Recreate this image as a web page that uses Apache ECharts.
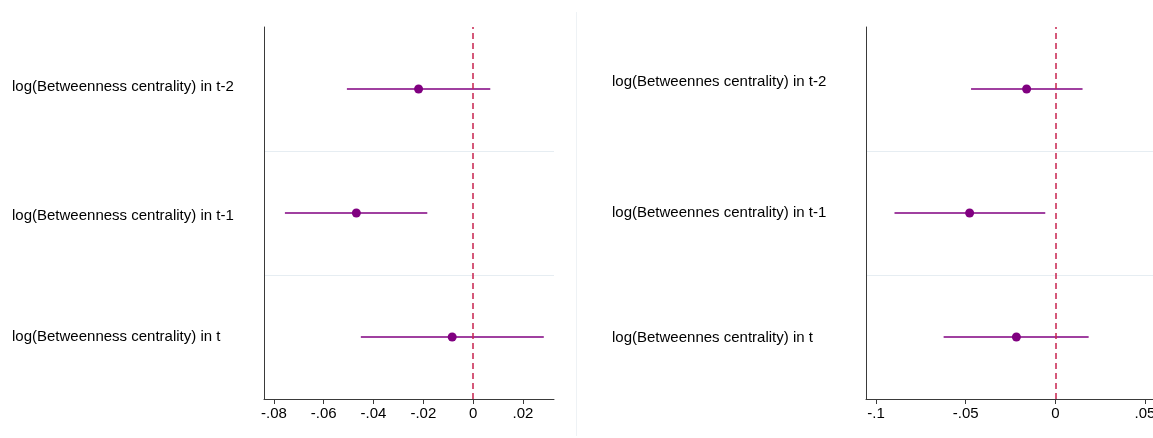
<!DOCTYPE html>
<html>
<head>
<meta charset="utf-8">
<script src="https://cdn.jsdelivr.net/npm/echarts@6/dist/echarts.min.js"></script>
<style>html,body{margin:0;padding:0;background:#fff;overflow:hidden}#c{width:1153px;height:438px}</style>
</head>
<body>
<div id="c"></div>
<script>
// Category labels (bottom to top: position 1, 2, 3)
const leftLabels = ["log(Betweenness centrality) in t", "log(Betweenness centrality) in t-1", "log(Betweenness centrality) in t-2"];
const rightLabels = ["log(Betweennes centrality) in t", "log(Betweennes centrality) in t-1", "log(Betweennes centrality) in t-2"];
const positions = [1, 2, 3];
// Left panel estimates and confidence bounds
const leftEst = [-0.0084, -0.0469, -0.0219];
const leftLo  = [-0.0451, -0.0756, -0.0507];
const leftHi  = [ 0.0284, -0.0184,  0.0069];
// Right panel estimates and confidence bounds
const rightEst = [-0.0217, -0.0478, -0.0160];
const rightLo  = [-0.0623, -0.0897, -0.0470];
const rightHi  = [ 0.0186, -0.0056,  0.0152];
// Tick values
const leftTicks = [-0.08, -0.06, -0.04, -0.02, 0, 0.02];
const rightTicks = [-0.1, -0.05, 0, 0.05];
const separators = [1.5, 2.5];

const purple = '#800080';
const red = '#c8234f';
const axisCol = '#3a3a3a';
const font = 'Liberation Sans, Arial, Helvetica, sans-serif';

function fmt(v) {
  if (Math.abs(v) < 1e-12) return '0';
  let s = String(+v.toFixed(4));
  return s.replace(/^(-?)0\./, '$1.');
}

function xAxisDef(idx, min, max, ticks) {
  return {
    type: 'value', gridIndex: idx, min: min, max: max, z: 10,
    axisLine: {show: true, onZero: false, lineStyle: {color: axisCol, width: 1}},
    axisTick: {show: true, length: 5, customValues: ticks, lineStyle: {color: axisCol}},
    axisLabel: {customValues: ticks, formatter: fmt, color: '#000', fontSize: 15, fontFamily: font, margin: 7},
    splitLine: {show: false}
  };
}
// label style shifts (pixels, negative = up), in position order 1,2,3
function yAxisDef(idx, labels, margin, shifts) {
  const rich = {};
  shifts.forEach((s, i) => {
    rich['p' + i] = {fontSize: 15, fontFamily: font, color: '#000',
      padding: s < 0 ? [0, 0, -2 * s, 0] : [2 * s, 0, 0, 0]};
  });
  return {
    type: 'value', gridIndex: idx, min: 0.5, max: 3.5, z: 10,
    axisLine: {show: true, onZero: false, lineStyle: {color: axisCol, width: 1}},
    axisTick: {show: false},
    axisLabel: {customValues: positions, align: 'left', margin: margin,
      formatter: v => { const i = Math.round(v) - 1; return labels[i] ? '{p' + i + '|' + labels[i] + '}' : ''; },
      rich: rich, color: '#000', fontSize: 15, fontFamily: font},
    splitLine: {show: false}
  };
}
function ciData(lo, hi) { return positions.map((p, i) => [lo[i], hi[i], p]); }
function ptData(est) { return positions.map((p, i) => [est[i], p]); }

function panelSeries(idx, lo, hi, est) {
  return [
    {
      type: 'line', xAxisIndex: idx, yAxisIndex: idx, silent: true, data: [],
      markLine: {
        silent: true, symbol: 'none', label: {show: false}, animation: false,
        lineStyle: {color: '#e6edf2', type: 'solid', width: 1},
        data: separators.map(s => ({yAxis: s}))
      },
      z: 1
    },
    {
      type: 'line', xAxisIndex: idx, yAxisIndex: idx, silent: true, data: [],
      markLine: {
        silent: true, symbol: 'none', label: {show: false}, animation: false,
        lineStyle: {color: red, type: [6, 4], width: 1.5},
        emphasis: {disabled: true},
        data: [{xAxis: 0}]
      },
      z: 2
    },
    {
      type: 'custom', xAxisIndex: idx, yAxisIndex: idx, silent: true,
      data: ciData(lo, hi),
      renderItem: function (params, api) {
        const a = api.coord([api.value(0), api.value(2)]);
        const b = api.coord([api.value(1), api.value(2)]);
        return {type: 'line', shape: {x1: a[0], y1: a[1], x2: b[0], y2: b[1]},
          style: {stroke: purple, lineWidth: 1.5}};
      },
      z: 3
    },
    {
      type: 'scatter', xAxisIndex: idx, yAxisIndex: idx, silent: true,
      data: ptData(est), symbol: 'circle', symbolSize: 9,
      itemStyle: {color: purple, opacity: 1}, z: 4
    }
  ];
}

const chart = echarts.init(document.getElementById('c'), null, {renderer: 'canvas'});
chart.setOption({
  animation: false,
  backgroundColor: '#fff',
  grid: [
    {left: 264, right: 599, top: 27, bottom: 39, containLabel: false, outerBoundsMode: 'none'},
    {left: 866, right: 0, top: 27, bottom: 39, containLabel: false, outerBoundsMode: 'none'}
  ],
  xAxis: [xAxisDef(0, -0.084, 0.0325, leftTicks), xAxisDef(1, -0.1056, 0.0545, rightTicks)],
  yAxis: [yAxisDef(0, leftLabels, 252, [0, 3, -2]), yAxisDef(1, rightLabels, 254, [1, 0, -7])],
  graphic: [{type: 'line', shape: {x1: 576.5, y1: 12, x2: 576.5, y2: 436}, style: {stroke: '#eef2f5', lineWidth: 1}, silent: true}],
  series: panelSeries(0, leftLo, leftHi, leftEst).concat(panelSeries(1, rightLo, rightHi, rightEst))
});
</script>
</body>
</html>
